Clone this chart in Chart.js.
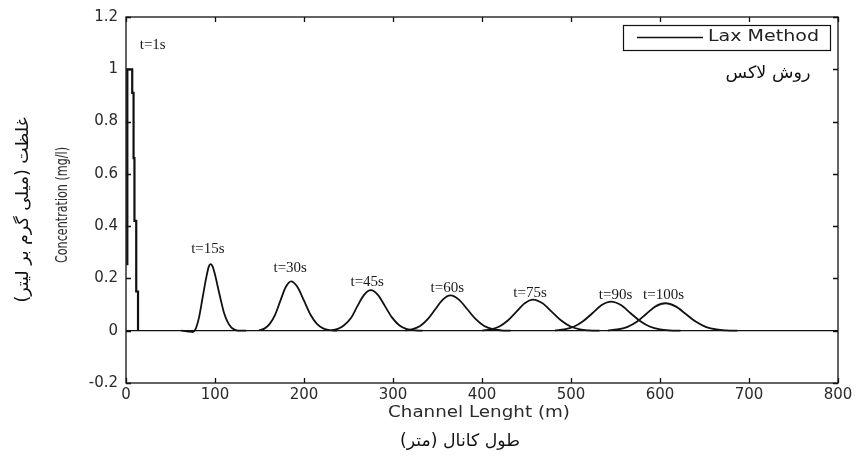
<!DOCTYPE html>
<html>
<head>
<meta charset="utf-8">
<script src="https://cdn.jsdelivr.net/npm/chart.js@4.4.0/dist/chart.umd.min.js"></script>
<style>
  html, body { margin: 0; padding: 0; background: #fff; }
  #wrap { width: 858px; height: 457px; }
</style>
</head>
<body>
<div id="wrap"><canvas id="laxChart"></canvas></div>
<script>
// Lax scheme: concentration along the channel at several times

// initial pulse (t = 1 s), corners listed twice so the edges stay vertical
const pulseX = [1.5, 1.5, 7, 7, 8.5, 8.5, 9.5, 9.5, 11.5, 11.5, 13.5, 13.5];
const pulseY = [0.25, 1.0, 1.0, 0.91, 0.91, 0.66, 0.66, 0.42, 0.42, 0.15, 0.15, 0];

const t15X = [62, 70, 75, 78, 82, 86, 90, 93, 95, 97, 100, 103, 106, 110, 114, 118, 122, 126, 135];
const t15Y = [0, -0.003, -0.005, 0.005, 0.05, 0.125, 0.2, 0.245, 0.255, 0.248, 0.215, 0.17, 0.125, 0.07, 0.035, 0.014, 0.004, 0, 0];

const t30X = [149.5, 155.5, 161.5, 167.5, 173.5, 179.5, 185.5, 192.5, 200, 207.5, 214.5, 221.5, 229, 237];
const t30Y = [0.002, 0.008, 0.026, 0.061, 0.115, 0.167, 0.189, 0.168, 0.115, 0.06, 0.026, 0.009, 0.002, 0];

const t45X = [231, 238, 245, 253, 260, 267.5, 275, 283, 291, 299, 307, 315, 323, 333];
const t45Y = [0.002, 0.007, 0.021, 0.05, 0.094, 0.137, 0.155, 0.137, 0.094, 0.05, 0.021, 0.007, 0.002, 0];

const t60X = [313.5, 322, 330.5, 339, 347.5, 356, 364.5, 374, 383.5, 393, 402.5, 412, 421.5, 432];
const t60Y = [0.0015, 0.006, 0.018, 0.044, 0.082, 0.119, 0.135, 0.119, 0.082, 0.044, 0.018, 0.006, 0.0015, 0];

const t75X = [400.5, 410, 419.5, 429, 438.5, 448, 457.5, 468, 478.5, 489, 499.5, 510, 520.5, 532];
const t75Y = [0.0013, 0.005, 0.016, 0.039, 0.072, 0.105, 0.119, 0.105, 0.072, 0.039, 0.016, 0.005, 0.0013, 0];

const t90X = [482, 492.5, 503, 513.5, 524, 534.5, 545, 556, 567, 578, 589, 600, 611, 623];
const t90Y = [0.0012, 0.005, 0.015, 0.036, 0.067, 0.098, 0.111, 0.098, 0.067, 0.036, 0.015, 0.005, 0.0012, 0];

const t100X = [541.5, 552, 563, 574, 584.5, 595, 606, 617.5, 629, 640.5, 652, 663.5, 675, 687];
const t100Y = [0.0012, 0.0046, 0.014, 0.034, 0.064, 0.093, 0.105, 0.093, 0.064, 0.034, 0.014, 0.0046, 0.0012, 0];

// time labels and where they sit (in data units)
const timeLabels = ['t=1s', 't=15s', 't=30s', 't=45s', 't=60s', 't=75s', 't=90s', 't=100s'];
const timeLabelX = [30, 92, 184.5, 271, 361, 454, 550, 604];
const timeLabelY = [1.093, 0.313, 0.241, 0.185, 0.164, 0.143, 0.138, 0.138];

const xMin = 0, xMax = 800, xStep = 100;
const yMin = -0.2, yMax = 1.2, yStep = 0.2;

const curves = [
  [pulseX, pulseY], [t15X, t15Y], [t30X, t30Y], [t45X, t45Y],
  [t60X, t60Y], [t75X, t75Y], [t90X, t90Y], [t100X, t100Y]
];

const datasets = curves.map(([xs, ys], i) => ({
  label: 'Lax Method',
  data: xs.map((x, k) => ({ x: x, y: ys[k] })),
  borderColor: '#111',
  borderWidth: i === 0 ? 2.2 : 1.8,
  pointRadius: 0,
  fill: false,
  cubicInterpolationMode: i === 0 ? 'default' : 'monotone'
}));

// draws text centred on (x, y), squeezed or stretched to a given width
function fitText(ctx, text, x, y, font, width, opts) {
  opts = opts || {};
  ctx.save();
  ctx.font = font;
  ctx.direction = opts.rtl ? 'rtl' : 'ltr';
  const w = ctx.measureText(text).width;
  ctx.translate(x, y);
  if (opts.rotate) ctx.rotate(opts.rotate);
  ctx.scale(width ? width / w : 1, 1);
  ctx.fillStyle = opts.color || '#222';
  ctx.textAlign = 'center';
  ctx.textBaseline = 'middle';
  ctx.fillText(text, 0, 0);
  ctx.restore();
}

const framePlugin = {
  id: 'frame',
  afterDatasetsDraw(chart) {
    const { ctx, chartArea: a, scales } = chart;
    const xs = scales.x, ys = scales.y;
    ctx.save();
    ctx.strokeStyle = '#111';
    ctx.lineWidth = 1.3;
    ctx.strokeRect(a.left, a.top, a.right - a.left, a.bottom - a.top);

    // inward tick marks on all four sides
    const tl = 5;
    ctx.beginPath();
    xs.ticks.forEach(t => {
      const px = Math.round(xs.getPixelForValue(t.value)) + 0.5;
      ctx.moveTo(px, a.bottom); ctx.lineTo(px, a.bottom - tl);
      ctx.moveTo(px, a.top); ctx.lineTo(px, a.top + tl);
    });
    ys.ticks.forEach(t => {
      const py = Math.round(ys.getPixelForValue(t.value)) + 0.5;
      ctx.moveTo(a.left, py); ctx.lineTo(a.left + tl, py);
      ctx.moveTo(a.right, py); ctx.lineTo(a.right - tl, py);
    });
    ctx.stroke();

    // time labels above each profile
    ctx.fillStyle = '#1a1a1a';
    ctx.font = "15px 'Liberation Serif', 'DejaVu Serif', serif";
    ctx.textAlign = 'center';
    ctx.textBaseline = 'middle';
    timeLabels.forEach((txt, i) => {
      ctx.fillText(txt, xs.getPixelForValue(timeLabelX[i]), ys.getPixelForValue(timeLabelY[i]));
    });

    // legend box
    const bx = a.right - 215, by = a.top + 8, bw = 207, bh = 25;
    ctx.fillStyle = '#fff';
    ctx.fillRect(bx, by, bw, bh);
    ctx.lineWidth = 1.2;
    ctx.strokeRect(bx + 0.5, by + 0.5, bw, bh);
    ctx.beginPath();
    ctx.moveTo(bx + 14, by + 12.5);
    ctx.lineTo(bx + 80, by + 12.5);
    ctx.lineWidth = 1.3;
    ctx.stroke();
    fitText(ctx, 'Lax Method', bx + 85 + 55.5, by + 12.5, "15px 'DejaVu Sans', sans-serif", 111);
    fitText(ctx, 'روش لاکس', a.right - 70, a.top + 57, "17px 'DejaVu Sans', sans-serif", 85, { rtl: true, color: '#111' });

    // axis titles, English and Persian
    fitText(ctx, 'Channel Lenght (m)', 479, 413, "15px 'DejaVu Sans', sans-serif", 182, { color: '#2a2a2a' });
    fitText(ctx, 'طول کانال (متر)', 460, 442, "17px 'DejaVu Sans', sans-serif", 120, { rtl: true, color: '#111' });
    fitText(ctx, 'Concentration (mg/l)', 63, 205, "16px 'Liberation Sans Narrow', 'DejaVu Sans Condensed', sans-serif", 116, { rotate: -Math.PI / 2, color: '#2a2a2a' });
    fitText(ctx, 'غلظت (میلی گرم بر لیتر)', 24, 210, "17px 'DejaVu Sans', sans-serif", 185, { rtl: true, rotate: -Math.PI / 2, color: '#111' });
    ctx.restore();
  }
};

new Chart(document.getElementById('laxChart'), {
  type: 'line',
  data: { datasets: datasets },
  options: {
    responsive: true,
    maintainAspectRatio: false,
    animation: false,
    layout: { padding: { top: 15, right: 20, left: 0, bottom: 0 } },
    plugins: { legend: { display: false }, tooltip: { enabled: false } },
    scales: {
      x: {
        type: 'linear',
        min: xMin, max: xMax,
        ticks: {
          stepSize: xStep,
          color: '#2a2a2a',
          font: { family: "'DejaVu Sans', sans-serif", size: 15 },
          padding: 3,
          maxRotation: 0
        },
        grid: { display: false, drawTicks: false },
        border: { display: false },
        afterFit: s => { s.height = 74; }
      },
      y: {
        min: yMin, max: yMax,
        ticks: {
          stepSize: yStep,
          color: '#2a2a2a',
          font: { family: "'DejaVu Sans', sans-serif", size: 15 },
          padding: 8,
          callback: v => String(+v.toFixed(1))
        },
        grid: {
          drawTicks: false,
          lineWidth: 1.3,
          color: c => (Math.abs(c.tick.value) < 1e-9 ? '#111' : 'rgba(0,0,0,0)')
        },
        border: { display: false },
        afterFit: s => { s.width = 126; }
      }
    }
  },
  plugins: [framePlugin]
});
</script>
</body>
</html>
